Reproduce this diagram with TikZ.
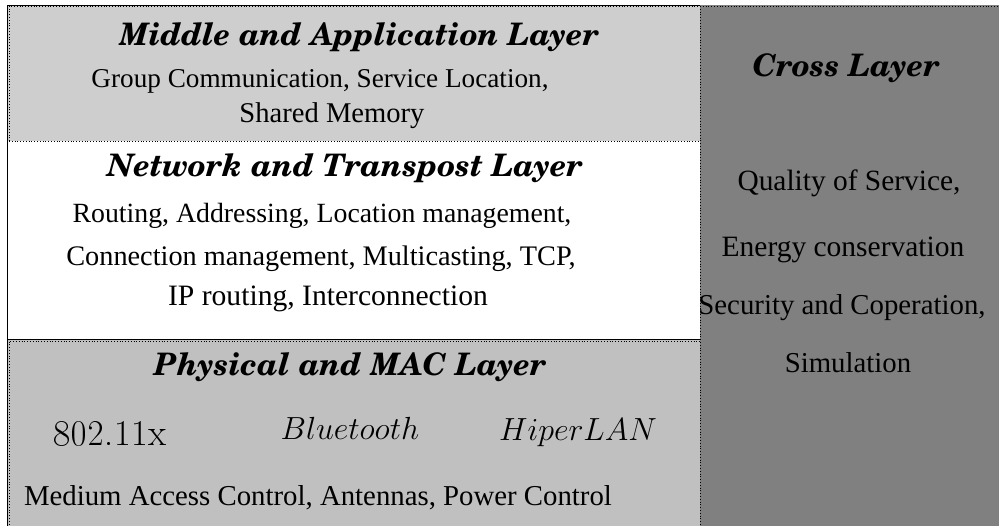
\RequirePackage{fix-cm}
\documentclass[tikz,border=0pt]{standalone}
\usepackage[T1]{fontenc}
\usepackage{fontspec}
\setmainfont{Liberation Serif}
\newcommand{\titlefont}{\fontencoding{T1}\fontfamily{pnc}\fontseries{b}\fontshape{it}\selectfont}
\newcommand{\lmroman}{\fontencoding{T1}\fontfamily{lmr}\fontseries{m}\fontshape{n}\selectfont}
\definecolor{midgray}{RGB}{206,206,206}
\definecolor{phygray}{RGB}{192,192,192}
\definecolor{crossgray}{RGB}{128,128,128}
\begin{document}
\begin{tikzpicture}[x=1pt,y=-1pt,
  layerbox/.style={draw=black,dotted,line width=0.8pt},
  ttl/.style={anchor=base,font=\fontsize{31}{34}\titlefont},
  body/.style={anchor=base,font=\fontsize{#1}{#1}\selectfont},
  body/.default=28,
  tech/.style={anchor=base,font=\fontsize{32}{36}\selectfont}]
\useasboundingbox (0,0) rectangle (999,525);
% layer panels
\fill[midgray] (8,6) rectangle (700,141);
\fill[white] (8,141) rectangle (700,339);
\fill[phygray] (8,340) rectangle (700,530);
\fill[crossgray] (700,5) rectangle (1005,530);
% outer frame of the stacked layers
\draw[line width=0.8pt] (7,530) -- (7,5) -- (700,5);
\draw[line width=0.8pt] (7,339) -- (700,339);
% dotted panel borders
\draw[layerbox] (9,141) -- (9,6) -- (1005,6);
\draw[layerbox] (9,141) -- (700,141);
\draw[layerbox] (9,530) -- (9,341) -- (700,341);
\draw[layerbox] (700,6) -- (700,530);
% middle and application layer
\node[ttl] (mid) at (359,45) {Middle and Application Layer};
\node[body=27.2] (mid1) at (320,87) {Group Communication, Service Location,};
\node[body=28.6] (mid2) at (332,122) {Shared Memory};
% network and transport layer
\node[ttl] (net) at (345,176) {Network and Transpost Layer};
\node[body=27.8] (net1) at (322,222) {Routing, Addressing, Location management,};
\node[body=28.3] (net2) at (321,265) {Connection management, Multicasting, TCP,};
\node[body=29.6] (net3) at (328,305) {IP routing, Interconnection};
% physical and MAC layer
\node[ttl] (phy) at (350,375) {Physical and MAC Layer};
\node[tech] (wifi) at (110,445) {\fontsize{36.5}{40}\lmroman 802.11x};
\node[tech] (bt) at (350,439) {$Bluetooth$};
\node[tech] (hl) at (578,440) {$HiperLAN$};
\node[body=28.8] (phy1) at (318,505) {Medium Access Control, Antennas, Power Control};
% cross layer
\node[ttl] (cross) at (846,76) {Cross Layer};
\node[body=29.4] (cr1) at (849,190) {Quality of Service,};
\node[body=29.5] (cr2) at (843,256) {Energy conservation};
\node[body=28.8] (cr3) at (842,314) {Security and Coperation,};
\node[body=28.8] (cr4) at (848,372) {Simulation};
\end{tikzpicture}
\end{document}
